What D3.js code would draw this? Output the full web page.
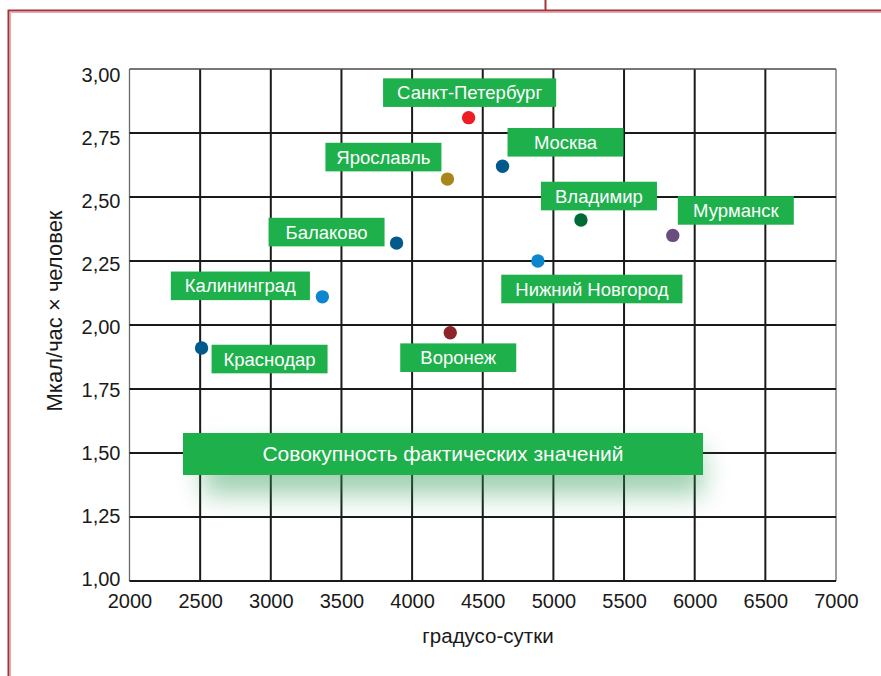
<!DOCTYPE html>
<html><head><meta charset="utf-8">
<script src="https://cdn.jsdelivr.net/npm/d3@7"></script>
<style>
html,body{margin:0;padding:0;background:#fff;}
svg{display:block;}
text{font-family:"Liberation Sans",Arial,Helvetica,sans-serif;}
</style></head>
<body>
<svg id="chart" width="881" height="676"></svg>
<script>
// ---- data ----
const cities = ["Санкт-Петербург","Москва","Ярославль","Владимир","Мурманск","Нижний Новгород","Балаково","Калининград","Краснодар","Воронеж"];
const degreeDays = [4400, 4640, 4250, 5195, 5845, 4890, 3890, 3365, 2510, 4270];
const heatPerPerson = [2.81, 2.62, 2.57, 2.41, 2.35, 2.25, 2.32, 2.11, 1.91, 1.97];
const pointColors = ["#ee1c25","#005a8c","#a8861c","#006b34","#6b4c7e","#0b86cf","#005a8c","#0b86cf","#005a8c","#8d2427"];
const xTicks = [2000,2500,3000,3500,4000,4500,5000,5500,6000,6500,7000];
const yTicks = [1.00,1.25,1.50,1.75,2.00,2.25,2.50,2.75,3.00];
const xTitle = "градусо-сутки";
const yTitle = "Мкал/час × человек";
const bandLabel = "Совокупность фактических значений";

// ---- layout (pixel offsets of label boxes from their points) ----
const labelOffsets = [[1,-25],[63,-24],[-64,-22],[18,-24],[63,-25],[54,28],[-70,-11],[-82,-11],[68,11],[8,25]];

const svg = d3.select("#chart");
const L = 129.5, R = 836, T = 69, B = 581;
const x = d3.scaleLinear().domain([2000,7000]).range([L,R]);
const y = d3.scaleLinear().domain([1,3]).range([B,T]);
const yLab = d3.scaleLinear().domain([1,3]).range([578,74]);
const green = "#1db04b";

// page frame
svg.append("path").attr("d","M8.5,676 V10.5 H881").attr("fill","none").attr("stroke","#a8303b").attr("stroke-width",2);
svg.append("path").attr("d","M10.5,676 V12.5 H881").attr("fill","none").attr("stroke","#e6a9ae").attr("stroke-width",1);
svg.append("line").attr("x1",545.5).attr("x2",545.5).attr("y1",0).attr("y2",10).attr("stroke","#a8303b").attr("stroke-width",2);

// defs
const defs = svg.append("defs");
const f = defs.append("filter").attr("id","glow").attr("x","-30%").attr("y","-80%").attr("width","160%").attr("height","300%");
f.append("feGaussianBlur").attr("stdDeviation",13);

// grid
const g = svg.append("g");
g.selectAll("line.vx").data(xTicks).join("line")
  .attr("x1",d=>x(d)).attr("x2",d=>x(d)).attr("y1",T).attr("y2",B)
  .attr("stroke",(d,i)=> (i===0||i===xTicks.length-1)?"#6a6a6a":"#1a1a1a")
  .attr("stroke-width",(d,i)=> (i===0||i===xTicks.length-1)?1.3:2);
g.selectAll("line.hy").data(yTicks).join("line")
  .attr("x1",L).attr("x2",R).attr("y1",d=>y(d)).attr("y2",d=>y(d))
  .attr("stroke",(d,i)=> (i===yTicks.length-1)?"#4a4a4a":"#1a1a1a")
  .attr("stroke-width",(d,i)=> (i===yTicks.length-1)?1.3:2);

// axes tick labels via d3 axes
const fmt = d => d3.format(".2f")(d).replace(".",",");
const ya = svg.append("g").attr("transform",`translate(${L},0)`)
  .call(d3.axisLeft(yLab).tickValues(yTicks).tickFormat(fmt).tickSize(0).tickPadding(9));
ya.select(".domain").remove();
ya.selectAll("text").attr("font-size",20).attr("dy","0.36em").attr("fill","#1a1a1a").attr("font-family","'Liberation Sans',Arial,sans-serif");
const xa = svg.append("g").attr("transform",`translate(0,${B})`)
  .call(d3.axisBottom(x).tickValues(xTicks).tickFormat(d3.format("d")).tickSize(0).tickPadding(13));
xa.select(".domain").remove();
xa.selectAll("text").attr("font-size",20).attr("fill","#1a1a1a").attr("font-family","'Liberation Sans',Arial,sans-serif");

// axis titles
svg.append("text").attr("x",488).attr("y",643).attr("text-anchor","middle")
  .attr("font-size",20.5).attr("fill","#1a1a1a").text(xTitle);
svg.append("text").attr("transform",`translate(62,311) rotate(-90)`).attr("text-anchor","middle")
  .attr("font-size",22).attr("fill","#1a1a1a").text(yTitle);

// big band label
const bx0 = 183, bx1 = 703, by0 = 433, by1 = 475;
svg.append("rect").attr("x",bx0+20).attr("y",by0+16).attr("width",bx1-bx0-20).attr("height",by1-by0+4)
  .attr("fill","#2f9a55").attr("opacity",0.45).attr("filter","url(#glow)");
svg.append("rect").attr("x",bx0).attr("y",by0).attr("width",bx1-bx0).attr("height",by1-by0).attr("fill",green);
svg.append("text").attr("x",(bx0+bx1)/2).attr("y",(by0+by1)/2+7.3).attr("text-anchor","middle")
  .attr("font-size",21).attr("fill","#fff").text(bandLabel);

// points
const pts = cities.map((c,i)=>({c, xv:degreeDays[i], yv:heatPerPerson[i], col:pointColors[i], off:labelOffsets[i]}));
svg.append("g").selectAll("circle").data(pts).join("circle")
  .attr("cx",d=>x(d.xv)).attr("cy",d=>y(d.yv)).attr("r",6.7).attr("fill",d=>d.col);

// labels
const lg = svg.append("g").selectAll("g").data(pts).join("g");
lg.each(function(d){
  const gg = d3.select(this);
  const cx = x(d.xv)+d.off[0], cy = y(d.yv)+d.off[1];
  const rect = gg.append("rect").attr("fill",green);
  const t = gg.append("text").attr("x",cx).attr("y",cy+6.6).attr("text-anchor","middle")
    .attr("font-size",18.5).attr("fill","#fff").text(d.c);
  const tl = t.node().getComputedTextLength();
  const w = tl > 100 ? tl + 28 : 116;
  rect.attr("x",cx-w/2).attr("y",cy-14.3).attr("width",w).attr("height",28.6);
});
</script>
</body></html>
